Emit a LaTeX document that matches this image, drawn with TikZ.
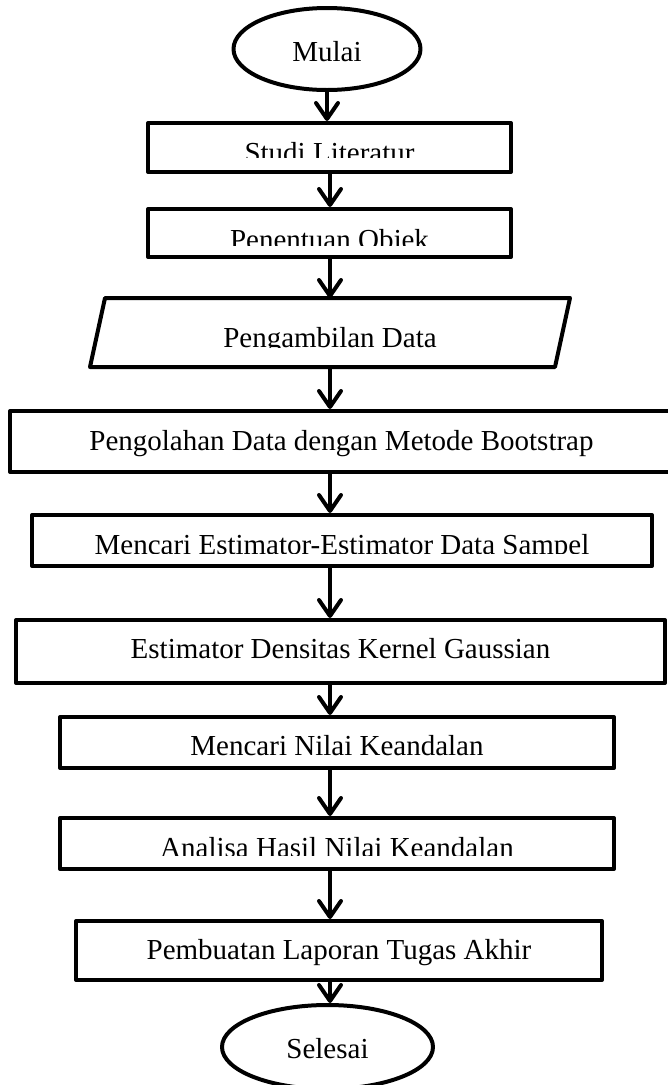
\documentclass[tikz,border=0pt]{standalone}
\usepackage{fontspec}
\setmainfont{Liberation Serif}
\usetikzlibrary{shapes,arrows.meta}

\begin{document}
\begin{tikzpicture}[x=1pt,y=-1pt,font=\fontsize{29}{34}\selectfont]
        \tikzstyle{garis}=[draw, line width=4pt, line join=round, inner sep=0pt]
        \tikzstyle{proses}=[garis, rectangle]
        \tikzstyle{terminal}=[garis, ellipse]
        \tikzstyle{panah}=[line width=4pt, -{Straight Barb[length=16pt,width=22pt,round]}]
        \tikzset{isi/.style n args={3}{path picture={
            \clip ([yshift=#3]path picture bounding box.south west) rectangle (path picture bounding box.north east);
            \node[anchor=base, inner sep=0pt] at ([yshift=#2]path picture bounding box.center) {#1};}}}
        \useasboundingbox (0,0) rectangle (668,1085);
        \coordinate (poros) at (330,0);
        \node[terminal, minimum width=187pt, minimum height=82pt, isi={Mulai}{-12pt}{0pt}] (mulai) at (327,49) {};
        \node[proses, minimum width=363pt, minimum height=49pt, isi={Studi Literatur}{-15pt}{15pt}] (studi) at (329.5,147.5) {};
        \node[proses, minimum width=363pt, minimum height=48pt, isi={Penentuan Objek}{-16.5pt}{12pt}] (penentuan) at (329.5,233) {};
        \node[proses, draw=none, minimum width=461pt, minimum height=65pt, isi={Pengambilan Data}{-15pt}{17.5pt}] (ambil) at (330,332.5) {};
        \draw[line width=4pt, line join=round] ([xshift=7.5pt]ambil.north west) -- ([xshift=7.5pt]ambil.north east)
            -- ([xshift=-7.5pt]ambil.south east) -- ([xshift=-7.5pt]ambil.south west) -- cycle;
        \node[proses, minimum width=663pt, minimum height=61pt, isi={Pengolahan Data dengan Metode Bootstrap}{-8.5pt}{0pt}] (olah) at (341.5,441.5) {};
        \node[proses, minimum width=620pt, minimum height=51pt, isi={Mencari Estimator-Estimator Data Sampel}{-14pt}{13pt}] (estimator) at (342,540.5) {};
        \node[proses, minimum width=649pt, minimum height=63pt, isi={Estimator Densitas Kernel Gaussian}{-7pt}{0pt}] (densitas) at (340.5,651.5) {};
        \node[proses, minimum width=554pt, minimum height=51pt, isi={Mencari Nilai Keandalan}{-12.5pt}{0pt}] (keandalan) at (337,742.5) {};
        \node[proses, minimum width=554pt, minimum height=51pt, isi={Analisa Hasil Nilai Keandalan}{-14pt}{14pt}] (analisa) at (337,843.5) {};
        \node[proses, minimum width=526pt, minimum height=59pt, isi={Pembuatan Laporan Tugas Akhir}{-8.5pt}{0pt}] (laporan) at (339,950.5) {};
        \node[terminal, minimum width=211pt, minimum height=84pt, isi={Selesai}{-11pt}{0pt}] (selesai) at (327.5,1047) {};
        \draw[panah] (mulai) -- (mulai |- studi.north);
        \draw[panah] (studi.south -| poros) -- (penentuan.north -| poros);
        \draw[panah] (penentuan.south -| poros) -- (ambil.north -| poros);
        \draw[panah] (ambil.south -| poros) -- (olah.north -| poros);
        \draw[panah] (olah.south -| poros) -- (estimator.north -| poros);
        \draw[panah] (estimator.south -| poros) -- (densitas.north -| poros);
        \draw[panah] (densitas.south -| poros) -- (keandalan.north -| poros);
        \draw[panah] (keandalan.south -| poros) -- (analisa.north -| poros);
        \draw[panah] (analisa.south -| poros) -- (laporan.north -| poros);
        \draw[panah] (laporan.south -| poros) -- (selesai.north -| poros);
\end{tikzpicture}
\end{document}
